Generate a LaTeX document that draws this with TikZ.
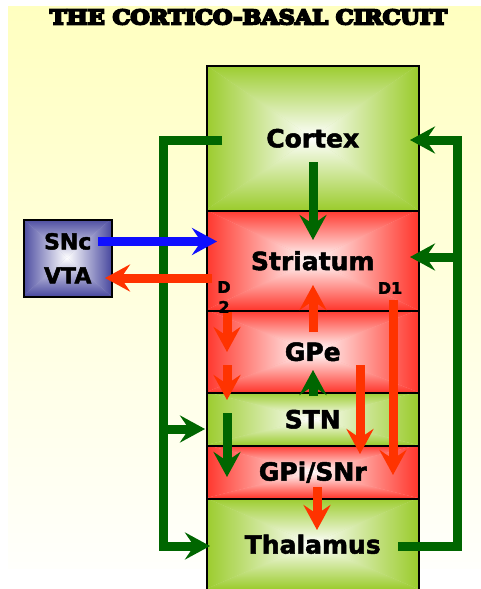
\documentclass[tikz,border=0pt]{standalone}
\usepackage{fontspec}
\usepackage{graphicx}
\newfontfamily\labfont{DejaVu Sans Bold}[FakeBold=2]
\newfontfamily\titfont{DejaVu Serif Bold}[FakeBold=9]
\usetikzlibrary{arrows.meta}
\definecolor{bgyellow}{RGB}{255,255,192}
\definecolor{boxgreen}{RGB}{155,204,45}
\definecolor{boxred}{RGB}{255,55,45}
\definecolor{boxblue}{RGB}{75,75,160}
\definecolor{dkgreen}{RGB}{0,102,0}
\definecolor{arred}{RGB}{255,51,0}
\definecolor{arblue}{RGB}{15,15,255}
\newcommand{\rgrad}[5]{%
  \fill[#5!45!white] (#1,#2) rectangle (#3,#4);
  \shade[top color=#5, middle color=#5!45!white, bottom color=white] (#1,#2) -- (#3,#2) -- ({(#1+#3)/2},{(#2+#4)/2}) -- cycle;
  \shade[top color=white, middle color=#5!45!white, bottom color=#5] (#1,#4) -- (#3,#4) -- ({(#1+#3)/2},{(#2+#4)/2}) -- cycle;
  \shade[left color=#5, middle color=#5!45!white, right color=white] (#1,#2) -- (#1,#4) -- ({(#1+#3)/2},{(#2+#4)/2}) -- cycle;
  \shade[left color=white, middle color=#5!45!white, right color=#5] (#3,#2) -- (#3,#4) -- ({(#1+#3)/2},{(#2+#4)/2}) -- cycle;
}
\tikzset{
  boxnode/.style={draw=black, line width=1.5pt, inner sep=0pt, anchor=north west,
    minimum width=212pt, font=\labfont\fontsize{25}{30}\selectfont},
  tip/.style={-{Stealth[length=25pt,width=27pt,inset=9pt]}},
  fat/.style={line width=9pt, line join=miter, tip},
  gloop/.style={draw=dkgreen, line width=9pt, line join=miter},
  dlab/.style={font=\labfont\fontsize{16}{20}\selectfont, inner sep=0pt, align=center}
}
\begin{document}
\begin{tikzpicture}[x=1pt,y=-1pt]
\useasboundingbox (0,0) rectangle (481,589);
% background
\shade[top color=bgyellow, bottom color=white!94!bgyellow] (8,6) rectangle (481,568);
% gradients
\rgrad{206}{65}{418}{210}{boxgreen}
\rgrad{206}{210}{418}{310}{boxred}
\rgrad{206}{310}{418}{392}{boxred}
\rgrad{206}{392}{418}{445}{boxgreen}
\rgrad{206}{445}{418}{498}{boxred}
\rgrad{206}{498}{418}{589}{boxgreen}
\rgrad{23}{219}{111}{296}{boxblue}
% title
\node (title) at (248.5,17) {\resizebox{397pt}{15pt}{\titfont THE CORTICO-BASAL CIRCUIT}};
% boxes
\node[boxnode, minimum height=145pt] (cortex) at (206,65) {Cortex};
\node[boxnode, minimum height=100pt] (striatum) at (206,210) {Striatum};
\node[boxnode, minimum height=82pt] (gpe) at (206,310) {GPe};
\node[boxnode, minimum height=53pt] (stn) at (206,392) {STN};
\node[boxnode, minimum height=53pt] (gpi) at (206,445) {GPi/SNr};
\node[boxnode, minimum height=91pt] (thal) at (206,498) {Thalamus};
\node[draw=black, line width=1.5pt, inner sep=0pt, anchor=north west, minimum width=88pt,
  minimum height=77pt, align=center, font=\labfont\fontsize{22}{34}\selectfont]
  (snc) at (23,219) {SNc\\VTA};
% coordinates
\coordinate (lA) at (222,140);
\coordinate (lB) at (163,140);
\coordinate (lC) at (163,546);
\coordinate (lD) at (163,429);
\coordinate (thalin) at (210,546);
\coordinate (stnin) at (205,429);
\coordinate (rA) at (398,546);
\coordinate (rB) at (457,546);
\coordinate (rC) at (457,140);
\coordinate (rD) at (457,257);
\coordinate (cortin) at (410,140);
\coordinate (strin) at (410,257);
\coordinate (c1s) at (313,162);
\coordinate (c1e) at (313,240);
\coordinate (bs) at (98,241.5);
\coordinate (be) at (217,241.5);
\coordinate (rs) at (212,278);
\coordinate (re) at (105,278);
\coordinate (g1s) at (313,332);
\coordinate (g1e) at (313,285);
\coordinate (s1s) at (313,396);
\coordinate (s1e) at (313,370);
\coordinate (d2as) at (227,312);
\coordinate (d2ae) at (227,352);
\coordinate (d2bs) at (227,365);
\coordinate (d2be) at (227,400);
\coordinate (s2s) at (227,413);
\coordinate (s2e) at (227,477);
\coordinate (g2s) at (360,365);
\coordinate (g2e) at (360,454);
\coordinate (d1s) at (393,300);
\coordinate (d1e) at (393,475);
\coordinate (t1s) at (317,487);
\coordinate (t1e) at (317,530);
% green loops
\draw[gloop, tip] (lA) -- (lB) -- (lC) -- (thalin);
\draw[fat, dkgreen] (lD) -- (stnin);
\draw[gloop, tip] (rA) -- (rB) -- (rC) -- (cortin);
\draw[fat, dkgreen] (rD) -- (strin);
% internal arrows
\draw[fat, dkgreen] (c1s) -- (c1e);
\draw[fat, arblue] (bs) -- (be);
\draw[fat, arred] (rs) -- (re);
\draw[fat, arred] (g1s) -- (g1e);
\draw[fat, dkgreen] (s1s) -- (s1e);
\draw[fat, arred] (d2as) -- (d2ae);
\draw[fat, arred] (d2bs) -- (d2be);
\draw[fat, dkgreen] (s2s) -- (s2e);
\draw[fat, arred] (g2s) -- (g2e);
\draw[fat, arred] (d1s) -- (d1e);
\draw[fat, arred] (t1s) -- (t1e);
% labels
\node[dlab] (d2) at (224,297) {D\\2};
\node[dlab] (d1) at (390,288) {D1};
\end{tikzpicture}
\end{document}
